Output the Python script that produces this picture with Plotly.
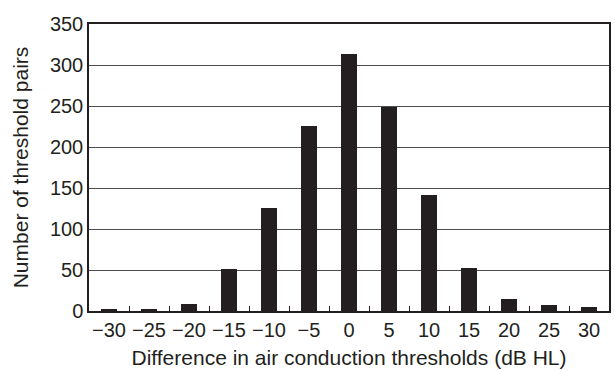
import plotly.graph_objects as go

differences = [-30, -25, -20, -15, -10, -5, 0, 5, 10, 15, 20, 25, 30]
counts = [2, 3, 9, 51, 126, 226, 314, 249, 141, 53, 15, 7, 5]
tick_labels = [str(d).replace("-", "\u2212") for d in differences]

fig = go.Figure(go.Bar(
    x=tick_labels, y=counts, width=0.42,
    marker=dict(color="#231f20", line=dict(width=0)),
))

font = "Liberation Sans, Arial, sans-serif"
fig.update_layout(
    template="none",
    width=615, height=372,
    margin=dict(l=89, r=6, t=24, b=61),
    paper_bgcolor="white", plot_bgcolor="white",
    font=dict(family=font, color="#231f20"),
    showlegend=False,
    bargap=0,
)
fig.update_xaxes(
    type="category", tickson="boundaries", ticks="inside", ticklen=5,
    tickcolor="#231f20", showgrid=False, automargin=False, tickangle=0,
    showline=True, linecolor="#231f20", linewidth=1.5, mirror=True,
    tickfont=dict(size=20),
    title=dict(text="Difference in air conduction thresholds (dB HL)", font=dict(size=21), standoff=11),
)
fig.update_yaxes(
    range=[0, 350], dtick=50, ticks="", showgrid=True, gridcolor="#4d4d4d", gridwidth=1,
    showline=True, linecolor="#231f20", linewidth=1.5, mirror=True, zeroline=False,
    automargin=False,
    tickfont=dict(size=20),
    title=dict(text="Number of threshold pairs", font=dict(size=21), standoff=16),
)
fig.write_html("out.html", post_script="document.body.style.margin='0';",
               config={"displayModeBar": False})
